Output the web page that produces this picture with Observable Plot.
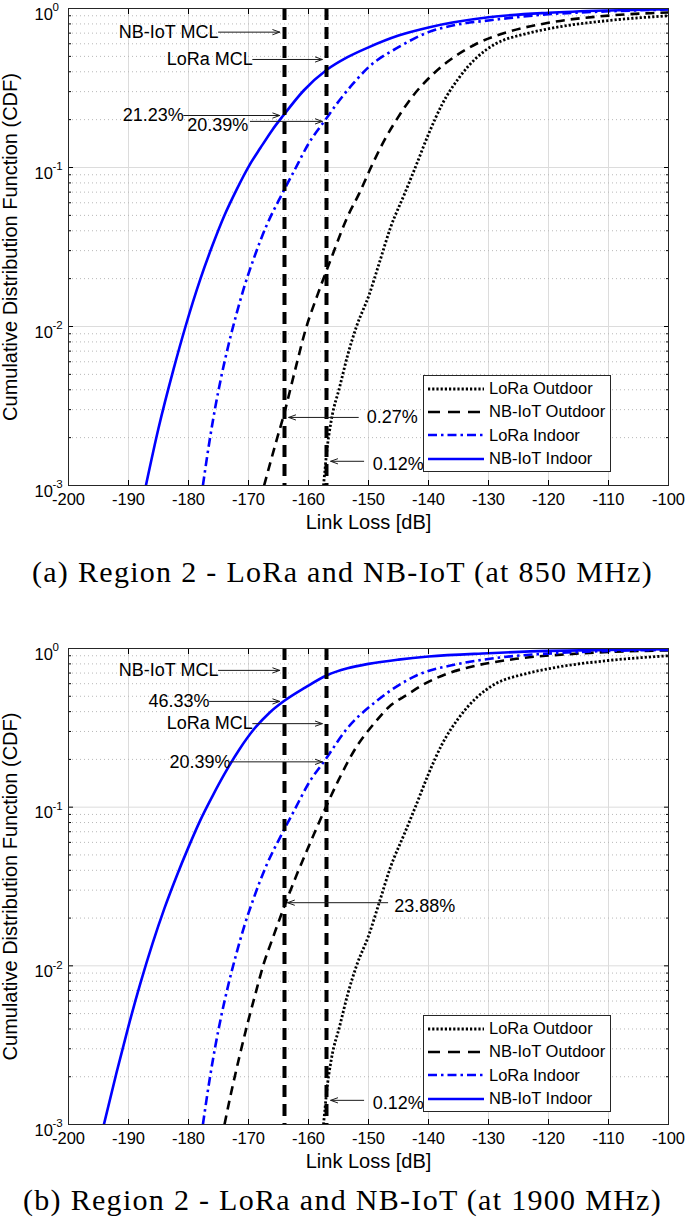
<!DOCTYPE html>
<html>
<head>
<meta charset="utf-8">
<script src="https://cdn.jsdelivr.net/npm/d3@7"></script>
<script src="https://cdn.jsdelivr.net/npm/@observablehq/plot@0.6"></script>
<style>
  body { margin: 0; background: #fff; }
  #root { position: relative; width: 685px; height: 1226px; overflow: hidden; font-family: "Liberation Sans", Arial, sans-serif; }
  .panel { position: absolute; left: 0; }
  .caption { position: absolute; left: 0; width: 685px; text-align: center; font-family: "Liberation Serif", serif; font-size: 30px; letter-spacing: 1.3px; line-height: 34px; color: #000; white-space: nowrap; }
  .legend { position: absolute; background: #fff; border: 1px solid #262626; box-sizing: border-box; padding-top: 1px; }
  .legend .row { height: 23.3px; display: flex; align-items: center; font-size: 16.5px; color: #000; }
  .legend svg { margin: 0 5px 0 4px; }
</style>
</head>
<body>
<div id="root"></div>
<script>
// ---------- shared axis data ----------
const xTicks = [-200, -190, -180, -170, -160, -150, -140, -130, -120, -110, -100];
const yTicks = [0.001, 0.01, 0.1, 1];
const yTickExp = ["-3", "-2", "-1", "0"];
const yMinor = [0.002,0.003,0.004,0.005,0.006,0.007,0.008,0.009,
                0.02,0.03,0.04,0.05,0.06,0.07,0.08,0.09,
                0.2,0.3,0.4,0.5,0.6,0.7,0.8,0.9];
const seriesNames = ["LoRa Outdoor", "NB-IoT Outdoor", "LoRa Indoor", "NB-IoT Indoor"];
const mclLoss = [-164, -157];   // NB-IoT MCL, LoRa MCL
const captions = ["(a) Region 2 - LoRa and NB-IoT (at 850 MHz)", "(b) Region 2 - LoRa and NB-IoT (at 1900 MHz)"];

// ---------- panel (a): 850 MHz ----------
const lossA_loraOut = [-157.5,-157.3,-157,-156.2,-154.8,-153.4,-152,-149.9,-148.2,-146.3,-144,-142.2,-140,-137.7,-135,-132,-128.8,-124,-118.8,-110,-100];
const cdfA_loraOut  = [0.001,0.0012,0.00158,0.00257,0.00417,0.00676,0.01,0.0158,0.0251,0.0422,0.0682,0.1,0.162,0.251,0.363,0.49,0.6,0.69,0.76,0.84,0.90];
const lossA_nbOut = [-167.4,-165.2,-164.2,-162.3,-160.4,-158.5,-156,-153.5,-151.5,-149.6,-147.5,-145,-142.6,-140,-137,-132,-127,-120,-110,-100];
const cdfA_nbOut  = [0.001,0.002,0.0027,0.0052,0.0098,0.0158,0.0282,0.049,0.0692,0.1,0.145,0.209,0.282,0.363,0.457,0.6,0.708,0.813,0.902,0.944];
const lossA_loraIn = [-177.6,-176.5,-175.5,-174.5,-173.3,-172,-170.7,-169.1,-167.1,-164.4,-162.3,-160,-157,-155.2,-152.5,-150,-145,-140,-135,-130,-120,-110,-100];
const cdfA_loraIn  = [0.001,0.0019,0.00316,0.0049,0.00776,0.012,0.0178,0.0269,0.0422,0.0682,0.0966,0.141,0.2039,0.254,0.339,0.427,0.571,0.71,0.794,0.841,0.92,0.96,0.985];
const lossA_nbIn = [-187.1,-185,-182.5,-180.5,-178,-176,-174,-172,-170,-168,-166,-164.2,-160.8,-157,-153.5,-150,-145,-140,-130,-120,-110,-100];
const cdfA_nbIn  = [0.001,0.00229,0.00537,0.01,0.02,0.0324,0.0501,0.0724,0.101,0.133,0.173,0.2123,0.305,0.41,0.494,0.57,0.676,0.76,0.88,0.94,0.972,0.99];

// annotations (a)
const arrowsA = [
  {x1: -175,   y1: 0.71,    x2: -164.8, y2: 0.71},
  {x1: -169.3, y1: 0.478,   x2: -157.7, y2: 0.478},
  {x1: -180.8, y1: 0.2123,  x2: -164.8, y2: 0.2123},
  {x1: -169.7, y1: 0.195,   x2: -157.7, y2: 0.195},
  {x1: -151.7, y1: 0.00268, x2: -163.3, y2: 0.00268},
  {x1: -150.8, y1: 0.00142, x2: -156.3, y2: 0.00142}
];
const labelsA = [
  {x: -175,   y: 0.71,    text: "NB-IoT MCL", anchor: "end"},
  {x: -169.3, y: 0.478,   text: "LoRa MCL",   anchor: "end"},
  {x: -180.8, y: 0.2123,  text: "21.23%",     anchor: "end"},
  {x: -180.2, y: 0.184,   text: "20.39%",     anchor: "start"},
  {x: -150.3, y: 0.00268, text: "0.27%",      anchor: "start"},
  {x: -149.3, y: 0.00137, text: "0.12%",      anchor: "start"}
];

// ---------- panel (b): 1900 MHz ----------
const lossB_loraOut = [-157.5,-157.3,-157,-156.2,-154.8,-153.4,-152,-149.9,-148.2,-146.3,-144,-142.2,-140,-137.7,-135,-132,-128.8,-124,-118.8,-110,-100];
const cdfB_loraOut  = [0.001,0.0012,0.00158,0.00257,0.00417,0.00676,0.01,0.0158,0.0251,0.0422,0.0682,0.1,0.162,0.251,0.363,0.49,0.6,0.69,0.76,0.84,0.90];
const lossB_nbOut = [-174,-172.9,-171.5,-170.2,-168.8,-167.5,-166,-164,-162,-160,-157,-155,-152,-149,-146.6,-143.5,-140.6,-137,-133.4,-125.4,-115.5,-100];
const cdfB_nbOut  = [0.001,0.00158,0.00269,0.00427,0.00676,0.0102,0.0148,0.0239,0.0372,0.0562,0.102,0.148,0.24,0.339,0.428,0.513,0.6,0.692,0.759,0.861,0.927,0.973];
const lossB_loraIn = [-177.6,-176.5,-175.5,-174.5,-173.3,-172,-170.7,-169.1,-167.1,-164.4,-162.3,-160,-157,-153.9,-148.6,-142,-135.4,-128.8,-118.8,-100];
const cdfB_loraIn  = [0.001,0.0019,0.00316,0.0049,0.00776,0.012,0.0178,0.0269,0.0422,0.0682,0.0966,0.141,0.2039,0.302,0.468,0.676,0.794,0.871,0.935,0.98];
const lossB_nbIn = [-194.1,-192,-190,-188,-186,-184,-182,-180,-178,-176,-174,-171.5,-169,-166.5,-164.2,-160.5,-157,-153.5,-150,-145,-140,-130,-120,-110,-100];
const cdfB_nbIn  = [0.001,0.00212,0.00417,0.0078,0.0138,0.0231,0.0366,0.056,0.0832,0.1175,0.162,0.232,0.313,0.394,0.4633,0.569,0.676,0.75,0.80,0.851,0.89,0.933,0.966,0.98,0.99];

// annotations (b)
const arrowsB = [
  {x1: -175,   y1: 0.728,   x2: -164.8, y2: 0.728},
  {x1: -176.5, y1: 0.464,   x2: -164.8, y2: 0.464},
  {x1: -169.3, y1: 0.336,   x2: -157.7, y2: 0.336},
  {x1: -173,   y1: 0.193,   x2: -157.7, y2: 0.193},
  {x1: -146.8, y1: 0.025,   x2: -163.5, y2: 0.025},
  {x1: -150.8, y1: 0.00142, x2: -156.3, y2: 0.00142}
];
const labelsB = [
  {x: -175,   y: 0.728,   text: "NB-IoT MCL", anchor: "end"},
  {x: -176.5, y: 0.464,   text: "46.33%",     anchor: "end"},
  {x: -169.3, y: 0.336,   text: "LoRa MCL",   anchor: "end"},
  {x: -173,   y: 0.193,   text: "20.39%",     anchor: "end"},
  {x: -145.7, y: 0.0238,  text: "23.88%",     anchor: "start"},
  {x: -149.3, y: 0.00137, text: "0.12%",      anchor: "start"}
];

// ---------- styles ----------
const seriesStyle = {
  "LoRa Outdoor":   {stroke: "#000", dash: "2.2,2", width: 2.8},
  "NB-IoT Outdoor": {stroke: "#000", dash: "9,6", width: 2.6},
  "LoRa Indoor":    {stroke: "#0000ff", dash: "9,4,2.5,4", width: 2.6},
  "NB-IoT Indoor":  {stroke: "#0000ff", dash: null, width: 2.6}
};

function rowsOf(loss, cdf) { return loss.map((l, i) => ({loss: l, cdf: cdf[i]})); }

function makePanel(series, arrows, labels, marginBottom) {
  const lineMarks = seriesNames.map(name => Plot.line(rowsOf(series[name][0], series[name][1]), {
    x: "loss", y: "cdf", stroke: seriesStyle[name].stroke, strokeWidth: seriesStyle[name].width,
    strokeDasharray: seriesStyle[name].dash, strokeLinecap: "butt", strokeLinejoin: "round",
    curve: "monotone-x", clip: true
  }));
  return Plot.plot({
    width: 685, height: 545,
    marginTop: 8, marginBottom, marginLeft: 68, marginRight: 17,
    x: {domain: [-200, -100]},
    y: {type: "log", domain: [0.001, 1]},
    style: {fontFamily: "'Liberation Sans', Arial, sans-serif", fontSize: "16px", color: "#000", background: "transparent", overflow: "visible"},
    marks: [
      Plot.gridX(xTicks.slice(1, -1), {stroke: "#dcdcdc", strokeOpacity: 1}),
      Plot.gridY(yMinor, {stroke: "#b8b8b8", strokeOpacity: 1, strokeDasharray: "1,3"}),
      Plot.gridY(yTicks.slice(1, -1), {stroke: "#dcdcdc", strokeOpacity: 1}),
      ...lineMarks,
      Plot.ruleX(mclLoss, {x: d => d, stroke: "#000", strokeWidth: 4, strokeDasharray: "12,7"}),
      Plot.arrow(arrows, {x1: "x1", y1: "y1", x2: "x2", y2: "y2", stroke: "#1a1a1a", strokeWidth: 1, headLength: 11, headAngle: 40}),
      Plot.text(labels.filter(d => d.anchor === "end"), {x: "x", y: "y", text: "text", textAnchor: "end", fontSize: 18, fill: "#000"}),
      Plot.text(labels.filter(d => d.anchor === "start"), {x: "x", y: "y", text: "text", textAnchor: "start", fontSize: 18, fill: "#000"}),
      // inward ticks
      Plot.axisX(xTicks, {anchor: "bottom", tickSize: -5, tickFormat: () => "", label: null}),
      Plot.axisX(xTicks, {anchor: "top", tickSize: -5, tickFormat: () => "", label: null}),
      Plot.axisY(yTicks, {anchor: "left", tickSize: -5, tickFormat: () => "", label: null}),
      Plot.axisY(yTicks, {anchor: "right", tickSize: -5, tickFormat: () => "", label: null}),
      Plot.axisY(yMinor, {anchor: "left", tickSize: -3, tickFormat: () => "", label: null}),
      Plot.axisY(yMinor, {anchor: "right", tickSize: -3, tickFormat: () => "", label: null}),
      // tick labels
      Plot.axisX(xTicks, {anchor: "bottom", tickSize: 0, tickPadding: 8, tickFormat: d => String(d), label: null, fontSize: 16.5}),
      Plot.text(yTicks, {y: d => d, text: () => "10", frameAnchor: "left", textAnchor: "start", lineAnchor: "middle", dx: -34, dy: 6, fontSize: 16.5}),
      Plot.text(yTicks, {y: d => d, text: (d, i) => yTickExp[i], frameAnchor: "left", textAnchor: "start", lineAnchor: "middle", dx: -16, dy: -1, fontSize: 11.5}),
      // axis titles
      Plot.text(["Link Loss [dB]"], {text: d => d, frameAnchor: "bottom", textAnchor: "middle", lineAnchor: "middle", dy: 37, fontSize: 20}),
      Plot.text(["Cumulative Distribution Function (CDF)"], {text: d => d, frameAnchor: "left", textAnchor: "middle", lineAnchor: "middle", rotate: -90, dx: -58, fontSize: 20}),
      Plot.frame({stroke: "#262626", strokeWidth: 1})
    ]
  });
}

function makeLegend(left, top) {
  const lg = document.createElement("div");
  lg.className = "legend";
  lg.style.left = left + "px"; lg.style.top = top + "px";
  lg.style.width = "188px"; lg.style.height = "97px";
  for (const name of seriesNames) {
    const st = seriesStyle[name];
    const row = document.createElement("div");
    row.className = "row";
    const dash = st.dash ? (name === "NB-IoT Outdoor" ? "12,8" : st.dash) : null;
    row.innerHTML = `<svg width="56" height="10"><line x1="0" x2="56" y1="5" y2="5" stroke="${st.stroke}" stroke-width="${st.width}" ${dash ? `stroke-dasharray="${dash}"` : ""}/></svg><span>${name}</span>`;
    lg.appendChild(row);
  }
  return lg;
}

const root = document.getElementById("root");

const seriesA = {
  "LoRa Outdoor": [lossA_loraOut, cdfA_loraOut],
  "NB-IoT Outdoor": [lossA_nbOut, cdfA_nbOut],
  "LoRa Indoor": [lossA_loraIn, cdfA_loraIn],
  "NB-IoT Indoor": [lossA_nbIn, cdfA_nbIn]
};
const seriesB = {
  "LoRa Outdoor": [lossB_loraOut, cdfB_loraOut],
  "NB-IoT Outdoor": [lossB_nbOut, cdfB_nbOut],
  "LoRa Indoor": [lossB_loraIn, cdfB_loraIn],
  "NB-IoT Indoor": [lossB_nbIn, cdfB_nbIn]
};

const pA = makePanel(seriesA, arrowsA, labelsA, 60);
pA.classList.add("panel"); pA.style.top = "0px";
root.appendChild(pA);
const capA = document.createElement("div");
capA.className = "caption"; capA.style.top = "555px"; capA.textContent = captions[0];
root.appendChild(capA);
root.appendChild(makeLegend(423, 375));

const pB = makePanel(seriesB, arrowsB, labelsB, 61);
pB.classList.add("panel"); pB.style.top = "640px";
root.appendChild(pB);
const capB = document.createElement("div");
capB.className = "caption"; capB.style.top = "1183px"; capB.textContent = captions[1];
root.appendChild(capB);
root.appendChild(makeLegend(423, 1015));
</script>
</body>
</html>
